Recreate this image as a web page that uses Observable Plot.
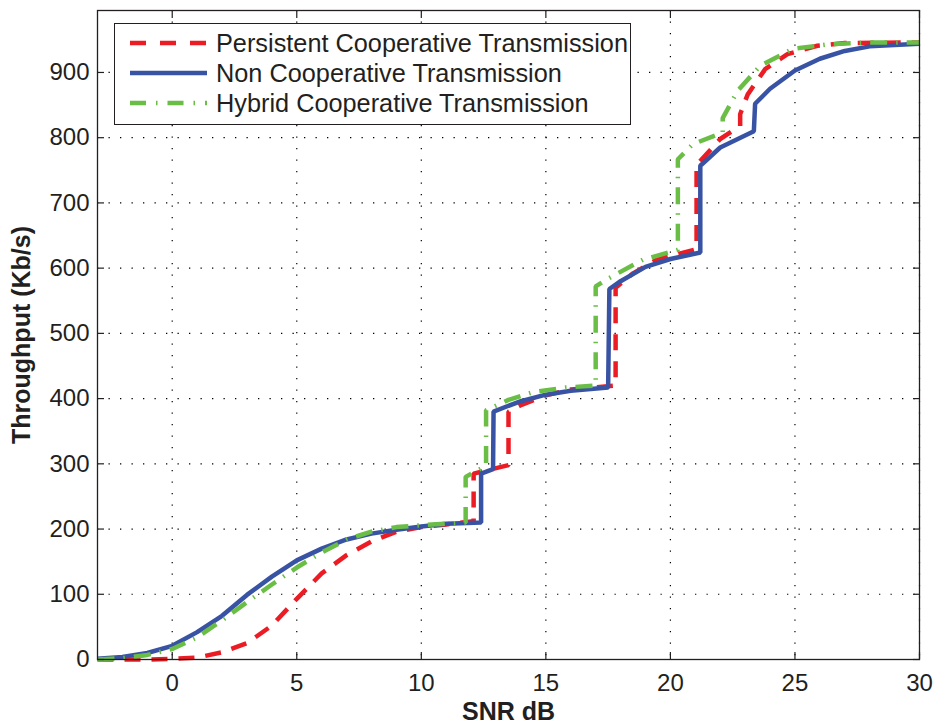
<!DOCTYPE html>
<html><head><meta charset="utf-8">
<script src="https://cdn.jsdelivr.net/npm/d3@7"></script>
<script src="https://cdn.jsdelivr.net/npm/@observablehq/plot@0.6"></script>
<style>
body{margin:0;background:#fff;}
#wrap{position:relative;width:935px;height:723px;font-family:"Liberation Sans",Arial,sans-serif;}
#legend{position:absolute;left:114px;top:23px;width:517px;height:102px;border:1.3px solid #231f20;background:#fff;box-sizing:border-box}
</style></head><body><div id="wrap"></div>
<script>
// Tick values
const xTicks = [0, 5, 10, 15, 20, 25, 30];
const yTicks = [0, 100, 200, 300, 400, 500, 600, 700, 800, 900];
const xLabel = "SNR dB";
const yLabel = "Throughput (Kb/s)";

// Series names
const seriesNames = ["Persistent Cooperative Transmission", "Non Cooperative Transmission", "Hybrid Cooperative Transmission"];

// Persistent Cooperative Transmission (red dashed)
const snrPersistent = [-3,-1,0,1,2,3,4,5,6,7,8,9,10,11,12.1,12.1,13.5,13.5,14,15,16,17.8,17.8,18.5,19.5,21.05,21.05,22,22.8,22.8,23.1,23.8,24.7,25.9,27,30];
const thrPersistent = [0,0,1,3,11,25,52,93,132,160,181,196,203,207,212,285,298,380,390,405,414,420,570,592,614,629,758,798,818,836,866,905,928,941,945,946];

// Non Cooperative Transmission (blue solid)
const snrNon = [-3,-2,-1,0,1,2,3,4,5,6,7,8,9,10,11,12.4,12.4,12.88,12.9,13.5,14,15,16,17.5,17.55,18,19,20,21.2,21.2,22,23.35,23.4,24,25,26,27,28,29,30];
const thrNon = [1,4,10,21,42,67,99,127,152,170,184,193,199,204,208,210,285,292,380,389,396,406,412,417,568,580,602,614,624,757,785,810,852,875,903,921,933,940,942,944];

// Hybrid Cooperative Transmission (green dash-dot)
const snrHybrid = [-3,-2,-1,0,1,2,3,4,5,6,7,8,9,10,11.78,11.78,12.6,12.6,13.5,14.5,15.8,17.0,17.0,17.5,18.9,20.3,20.3,20.9,22.1,22.1,22.7,23.6,24.9,26.3,28,30];
const thrHybrid = [0,2,7,16,34,60,88,115,141,164,184,196,203,206,210,280,297,382,398,410,417,420,572,584,613,628,767,790,808,830,872,910,936,943,946,946];

const colors = ["#ec1c24", "#3953a4", "#6abd45"];
const dashes = ["16,11", null, "17,9,1.5,9"];

const toRows = (xs, ys) => xs.map((x, i) => ({snr: x, thr: ys[i]}));
const data = [toRows(snrPersistent, thrPersistent), toRows(snrNon, thrNon), toRows(snrHybrid, thrHybrid)];

const font = "Liberation Sans, Arial, sans-serif";
const ink = "#231f20";

const chart = Plot.plot({
  width: 935, height: 723,
  marginLeft: 97, marginRight: 16, marginTop: 10, marginBottom: 64,
  x: {domain: [-3, 30]},
  y: {domain: [0, 995]},
  style: {fontFamily: font, color: ink, background: "#fff", overflow: "visible"},
  marks: [
    Plot.gridX(xTicks, {stroke: "#000", strokeOpacity: 1, strokeWidth: 1.2, strokeDasharray: "1.3,10.2"}),
    Plot.gridY(yTicks, {stroke: "#000", strokeOpacity: 1, strokeWidth: 1.2, strokeDasharray: "1.3,10.2"}),
    ...data.map((rows, i) => Plot.line(rows, {
      x: "snr", y: "thr", stroke: colors[i], strokeWidth: 4.5,
      strokeDasharray: dashes[i], strokeLinecap: "butt", strokeLinejoin: "miter"
    })),
    Plot.frame({stroke: ink, strokeWidth: 1.3}),
    Plot.axisX(xTicks, {anchor: "bottom", tickSize: 0, tickPadding: 14, fontSize: 24, label: null}),
    Plot.axisX(xTicks, {anchor: "bottom", tickSize: 7, dy: -7, fill: "none", stroke: ink, strokeWidth: 1.2, label: null}),
    Plot.axisX(xTicks, {anchor: "top", tickSize: 7, dy: 7, fill: "none", stroke: ink, strokeWidth: 1.2, label: null}),
    Plot.axisY(yTicks, {anchor: "left", tickSize: 0, tickPadding: 8, fontSize: 24, label: null}),
    Plot.axisY(yTicks, {anchor: "left", tickSize: 7, dx: 7, fill: "none", stroke: ink, strokeWidth: 1.2, label: null}),
    Plot.axisY(yTicks, {anchor: "right", tickSize: 7, dx: -7, fill: "none", stroke: ink, strokeWidth: 1.2, label: null}),
    Plot.text([xLabel], {text: d => d, frameAnchor: "bottom", dy: 52, textAnchor: "middle", lineAnchor: "middle", fontSize: 25, fontWeight: "bold", fill: ink}),
    Plot.text([yLabel], {text: d => d, frameAnchor: "left", dx: -76, rotate: -90, textAnchor: "middle", lineAnchor: "middle", fontSize: 25, fontWeight: "bold", fill: ink})
  ]
});
const wrap = document.getElementById("wrap");
wrap.appendChild(chart);

// Legend
const leg = document.createElement("div");
leg.id = "legend";
wrap.appendChild(leg);
const lsvg = d3.select(leg).append("svg").attr("width", 515).attr("height", 100)
  .style("position", "absolute").style("left", "0px").style("top", "0px");
seriesNames.forEach((name, i) => {
  const base = 28 + i * 30;
  const ly = base - 9;
  lsvg.append("line").attr("x1", 15).attr("x2", 92).attr("y1", ly).attr("y2", ly)
    .attr("stroke", colors[i]).attr("stroke-width", 4.5)
    .attr("stroke-dasharray", dashes[i] ? (i === 0 ? "16,14" : "16,10,1.5,10") : null);
  lsvg.append("text").attr("x", 101).attr("y", base).text(name)
    .attr("font-size", 25.3).attr("font-family", font).attr("fill", ink);
});
</script></body></html>
